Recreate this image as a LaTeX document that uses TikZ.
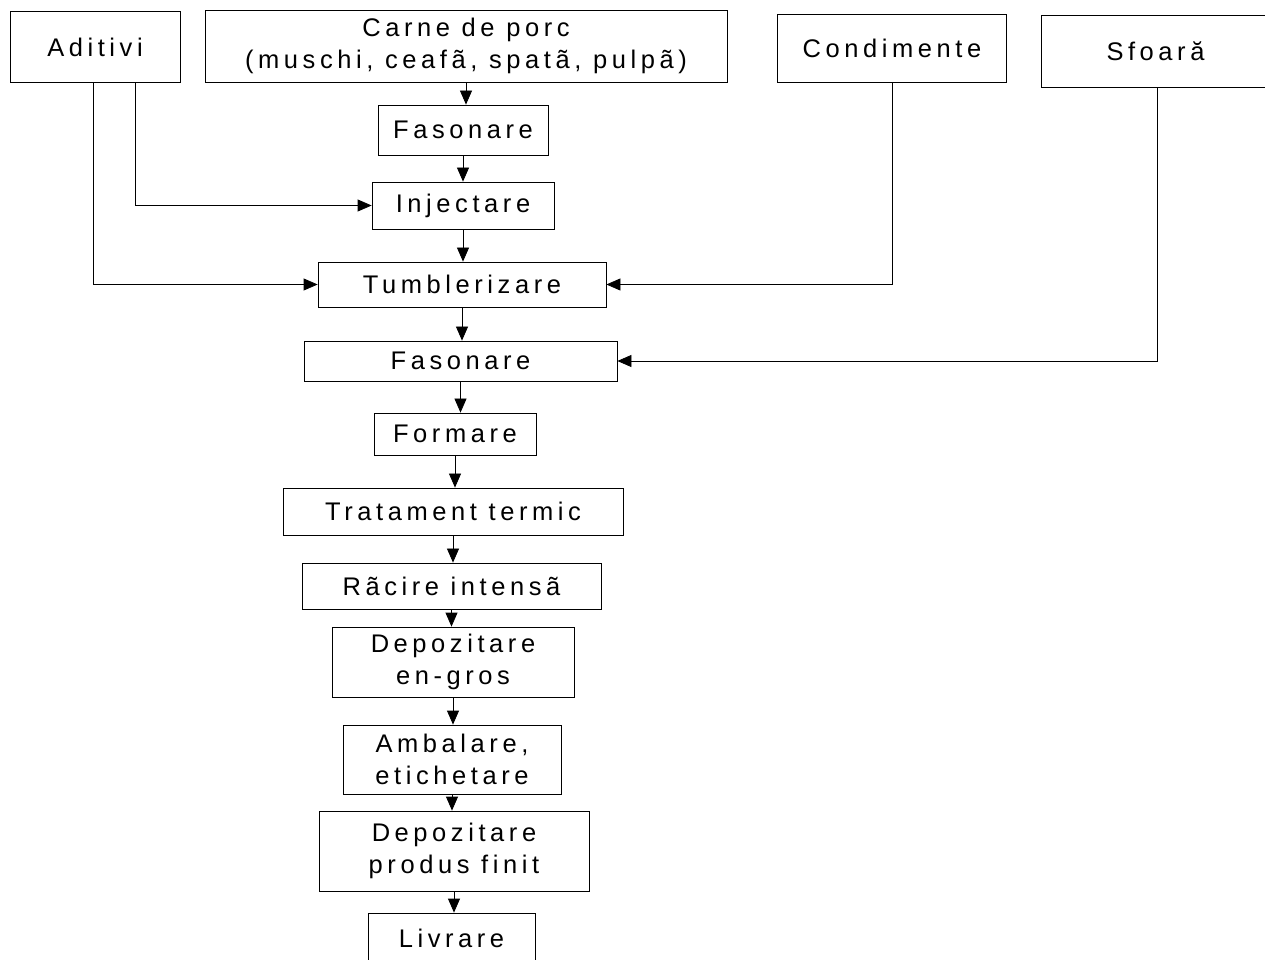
\documentclass[tikz,border=0pt]{standalone}
\usepackage{fontspec}
\setmainfont{Liberation Sans}[LetterSpace=18]
\usetikzlibrary{arrows.meta}
\usetikzlibrary{positioning}

\tikzset{
  box/.style={draw, line width=0.45pt, align=center, inner sep=0pt,
    font=\fontsize{14.5}{17.8}\selectfont},
  flow/.style={-{Triangle[length=0.28cm,width=0.24cm]}, line width=0.45pt}
}

\begin{document}
\begin{tikzpicture}
		\useasboundingbox (0,0) rectangle (25.3,-19.2);

		%inputs
		\node[box, minimum width=3.40cm, minimum height=1.42cm] (aditivi) at (1.90,-0.94) {Aditivi};
		\node[box, minimum width=10.44cm, minimum height=1.44cm] (carne) at (9.32,-0.92) {Carne de porc\\(muschi, ceafã, spatã, pulpã)};
		\node[box, minimum width=4.58cm, minimum height=1.36cm] (condimente) at (17.84,-0.96) {Condimente};
		\node[box, minimum width=4.58cm, minimum height=1.44cm] (sfoara) at (23.11,-1.02) {Sfoară};

		%process steps
		\node[box, minimum width=3.40cm, minimum height=1.00cm] (fasonare1) at (9.26,-2.60) {Fasonare};
		\node[box, minimum width=3.64cm, minimum height=0.94cm] (injectare) at (9.26,-4.11) {Injectare};
		\node[box, minimum width=5.76cm, minimum height=0.90cm] (tumbler) at (9.24,-5.69) {Tumblerizare};
		\node[box, minimum width=6.26cm, minimum height=0.80cm] (fasonare2) at (9.21,-7.22) {Fasonare};
		\node[box, minimum width=3.24cm, minimum height=0.84cm] (formare) at (9.10,-8.68) {Formare};
		\node[box, minimum width=6.80cm, minimum height=0.94cm] (tratament) at (9.06,-10.23) {Tratament termic};
		\node[box, minimum width=5.98cm, minimum height=0.92cm] (racire) at (9.03,-11.72) {Rãcire intensã};
		\node[box, minimum width=4.84cm, minimum height=1.40cm] (depozitare1) at (9.06,-13.24) {Depozitare\\en-gros};
		\node[box, minimum width=4.36cm, minimum height=1.38cm] (ambalare) at (9.04,-15.19) {Ambalare,\\etichetare};
		\node[box, minimum width=5.40cm, minimum height=1.60cm] (depozitare2) at (9.08,-17.02) {Depozitare\\produs finit};
		\node[box, minimum width=3.34cm, minimum height=1.00cm] (livrare) at (9.03,-18.76) {Livrare};

		%main line
		\foreach \a/\b in {carne/fasonare1, fasonare1/injectare, injectare/tumbler,
			tumbler/fasonare2, fasonare2/formare, formare/tratament, tratament/racire,
			racire/depozitare1, depozitare1/ambalare, ambalare/depozitare2, depozitare2/livrare}
		\draw[flow] (\a.south) -- (\a.south |- \b.north);

		%side inputs
		\draw[flow] ([xshift=-0.04cm]aditivi.south) |- (tumbler.west);
		\draw[flow] ([xshift=0.80cm]aditivi.south) |- (injectare.west);
		\draw[flow] (condimente.south) |- (tumbler.east);
		\draw[flow] ([xshift=0.03cm]sfoara.south) |- (fasonare2.east);
\end{tikzpicture}
\end{document}
